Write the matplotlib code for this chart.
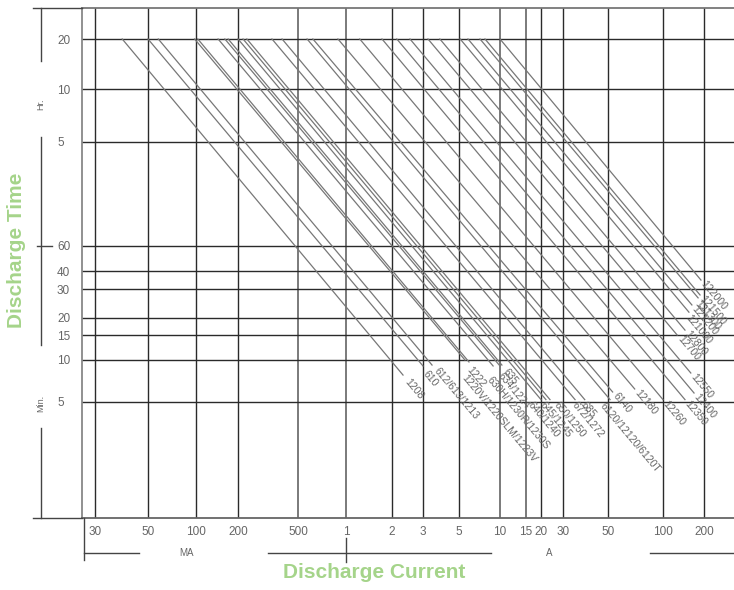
import numpy as np
import matplotlib
matplotlib.use("Agg")
from matplotlib import pyplot as plt
from matplotlib.lines import Line2D

plt.rcParams['font.family'] = ['Liberation Sans', 'DejaVu Sans']

##### DATA

# battery models, current at the 20 hour rate (A), end point of each line
models = ["1208", "610", "612/613/1213", "1222", "1220V/1220SLM/1223V",
          "630H/1230R/1230S", "634/1224", "635",
          "640/1240", "645/1245", "650/1250", "672/1272", "685",
          "6120/12120/6120T", "6140", "12180", "12260",
          "12350", "12400", "12550", "12700", "12800",
          "121000", "121200", "121300", "121500", "122000"]
start_amp = [0.039, 0.05, 0.058, 0.103, 0.098,
             0.144, 0.161, 0.170,
             0.2, 0.216, 0.229, 0.336, 0.392,
             0.57, 0.62, 0.89, 1.23,
             1.72, 2.13, 2.53, 3.22, 3.81,
             5.1, 5.82, 7.13, 7.76, 10.0]
end_amp = [2.31, 3.0, 3.41, 5.92, 5.53,
           8.9, 10.0, 10.3,
           20.0, 21.9, 23.6, 34.4, 38.4,
           51.3, 53.0, 70.0, 100.0,
           145.0, 169.0, 160.0, 127.0, 145.0,
           155.0, 163.0, 181.0, 187.0, 190.0]
end_min = [7.8, 9.06, 9.2, 9.68, 10.0,
           9.06, 9.06, 9.2,
           5.2, 5.2, 5.2, 5.2, 5.2,
           5.2, 5.9, 6.2, 5.2,
           5.2, 5.8, 8.07, 15.0, 16.3,
           21.7, 24.0, 26.5, 27.6, 34.6]
start_min = 1200  # 20 Hr.

# axis ticks
x_ticks = [0.03, 0.05, 0.1, 0.2, 0.5, 1, 2, 3, 5, 10, 15, 20, 30, 50, 100, 200]
x_tick_labels = ["30", "50", "100", "200", "500", "1", "2", "3", "5",
                 "10", "15", "20", "30", "50", "100", "200"]
y_ticks = [5, 10, 15, 20, 30, 40, 60, 300, 600, 1200]   # minutes
y_tick_labels = ["5", "10", "15", "20", "30", "40", "60", "5", "10", "20"]

##### LAYOUT - the chart uses a hand drawn (not exactly log) scale
W, H = 734, 590
AX_L, AX_R, AX_T, AX_B = 82, 734, 8, 518

# current (A) -> pixel column
x_anchor_val = [0.0265] + x_ticks + [332]
x_anchor_px = [82, 95, 148, 196, 238, 298, 346, 392, 423, 459, 500,
               526, 541, 563, 608, 663, 704, 734]
# minutes -> pixel row (from bottom of axes)
y_anchor_val = [0.74, 5, 10, 15, 20, 30, 40, 60, 300, 600, 1200, 1845]
y_anchor_px = [518 - p for p in [518, 402, 360, 335, 318, 289, 271, 246, 142, 89, 39, 8]]

# label shifts in pixels (dx right, dy down)
label_shift = {"1208": (2, 3), "610": (0, 4), "612/613/1213": (2, 2),
               "1222": (-2, 4), "1220V/1220SLM/1223V": (-3, 14),
               "630H/1230R/1230S": (-6, 10), "634/1224": (-2, 6), "635": (1, 3),
               "640/1240": (-13, 1), "645/1245": (-6, 1), "650/1250": (4, 1),
               "672/1272": (-3, 1), "685": (-4, 1), "6120/12120/6120T": (-10, 2),
               "121300": (-4, 2), "121000": (-3, 2)}

LINE_COL = "#777777"
GRID_COL = "#2a2a2a"
TEXT_COL = "#666666"
GREEN = "#a5d48a"


def make_funcs(vals, pxs):
    lv = np.log10(vals)
    pxs = np.array(pxs, dtype=float)

    def fwd(v):
        v = np.clip(np.asarray(v, dtype=float), 1e-9, None)
        return np.interp(np.log10(v), lv, pxs)

    def inv(p):
        return 10 ** np.interp(np.asarray(p, dtype=float), pxs, lv)
    return fwd, inv


def fx(px):
    return px / W


def fy(py):
    return 1 - py / H


fig = plt.figure(figsize=(W / 100, H / 100), dpi=100)
ax = fig.add_axes([fx(AX_L), fy(AX_B), (AX_R - AX_L) / W, (AX_B - AX_T) / H])

ax.set_xscale("function", functions=make_funcs(x_anchor_val, x_anchor_px))
ax.set_yscale("function", functions=make_funcs(y_anchor_val, y_anchor_px))
ax.set_xlim(x_anchor_val[0], x_anchor_val[-1])
ax.set_ylim(y_anchor_val[0], y_anchor_val[-1])

ax.set_xticks(x_ticks)
ax.set_xticklabels(x_tick_labels)
ax.set_yticks(y_ticks)
ax.set_yticklabels(y_tick_labels, ha="left")
ax.xaxis.set_minor_locator(matplotlib.ticker.NullLocator())
ax.yaxis.set_minor_locator(matplotlib.ticker.NullLocator())
ax.tick_params(axis="both", length=0, colors=TEXT_COL, labelsize=8.5)
ax.tick_params(axis="x", pad=6)
ax.tick_params(axis="y", pad=18)

# a few of the grid lines are drawn lighter in the original
light_x = [0.5, 1, 10, 15]
for v in x_ticks:
    if v in light_x:
        ax.axvline(v, color="#7a7a7a", lw=1.4, zorder=1)
    else:
        ax.axvline(v, color=GRID_COL, lw=1.0, zorder=1)
for v in y_ticks:
    ax.axhline(v, color=GRID_COL, lw=1.0, zorder=1)

ax.spines["right"].set_visible(False)
ax.spines["left"].set_color("#888888")
ax.spines["left"].set_linewidth(1.3)
ax.spines["top"].set_color("#777777")
ax.spines["bottom"].set_color("#666666")
ax.spines["top"].set_linewidth(1.3)
ax.spines["bottom"].set_linewidth(1.3)

# discharge lines
ang = np.deg2rad(50)
for i, name in enumerate(models):
    ax.plot([start_amp[i], end_amp[i]], [start_min, end_min[i]],
            color=LINE_COL, lw=0.9, zorder=2)
    sx, sy = label_shift.get(name, (0, 0))
    gap = 3
    dx = gap * np.cos(ang) + sx
    dy = -gap * np.sin(ang) - sy
    ax.annotate(name, (end_amp[i], end_min[i]), xytext=(dx * 0.72, dy * 0.72),
                textcoords="offset points", rotation=-50, rotation_mode="anchor",
                ha="left", va="center", fontsize=7.5, color=TEXT_COL, zorder=3)


# decorations outside the axes (figure pixel coordinates)
def fline(x0, y0, x1, y1, col="#444444", lw=1.0):
    fig.add_artist(Line2D([fx(x0), fx(x1)], [fy(y0), fy(y1)], color=col, lw=lw,
                          transform=fig.transFigure))


fline(33, 8, AX_L, 8)
fline(33, 518, AX_L, 518)
fline(41, 8, 41, 61)
fline(41, 137, 41, 345)
fline(37, 246, 52, 246)
fline(41, 428, 41, 518)
fig.text(fx(41), fy(104), "Hr.", rotation=90, ha="center", va="center",
         fontsize=6.5, color=TEXT_COL)
fig.text(fx(41), fy(403), "Min.", rotation=90, ha="center", va="center",
         fontsize=6.5, color=TEXT_COL)

fline(84, 518, 84, 560)
fline(84, 553, 139, 553)
fline(268, 553, 491, 553)
fline(346, 538, 346, 562)
fline(650, 553, 734, 553)
fig.text(fx(186), fy(553), "MA", ha="center", va="center", fontsize=7, color=TEXT_COL)
fig.text(fx(549), fy(553), "A", ha="center", va="center", fontsize=7, color=TEXT_COL)

fig.text(fx(374), fy(573), "Discharge Current", ha="center", va="center",
         fontsize=15, fontweight="bold", color=GREEN)
fig.text(fx(17), fy(250), "Discharge Time", ha="center", va="center", rotation=90,
         fontsize=15, fontweight="bold", color=GREEN)

fig.savefig("out.png", dpi=100)
